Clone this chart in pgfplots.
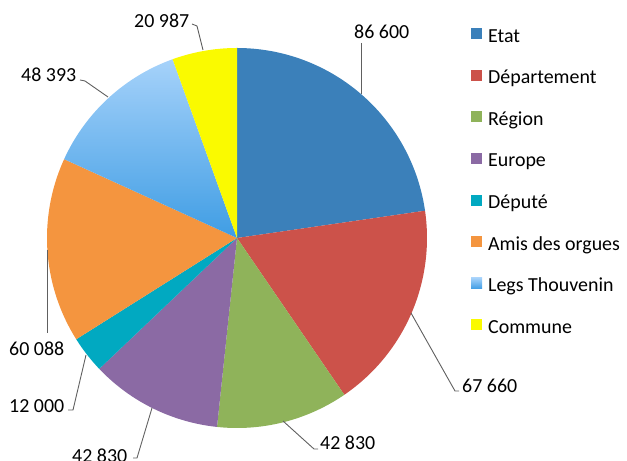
\documentclass[border=0pt]{standalone}
\usepackage{pgfplots}
\pgfplotsset{compat=1.18}
\usepackage{fontspec}
\setmainfont{Carlito}

\definecolor{cEtat}{HTML}{3B80BA}
\definecolor{cDep}{HTML}{CC524A}
\definecolor{cReg}{HTML}{8FB35A}
\definecolor{cEur}{HTML}{8B6AA4}
\definecolor{cDeput}{HTML}{01A9C1}
\definecolor{cAmis}{HTML}{F4953F}
\definecolor{cLegsT}{HTML}{A6D2FA}
\definecolor{cLegsB}{HTML}{3F9DE4}
\definecolor{cLegs}{HTML}{6AB2EE}
\definecolor{cCom}{HTML}{FAFA00}
\definecolor{cLead}{HTML}{606060}

% data (euros)
\def\vEtat{86600}
\def\vDep{67660}
\def\vReg{42830}
\def\vEur{42830}
\def\vDeput{12000}
\def\vAmis{60088}
\def\vLegs{48393}
\def\vCom{20987}
\edef\tot{\fpeval{\vEtat+\vDep+\vReg+\vEur+\vDeput+\vAmis+\vLegs+\vCom}}
% slice boundary angles, clockwise from the top
\edef\Aa{90}
\edef\Ab{\fpeval{\Aa-360*\vEtat/\tot}}
\edef\Ac{\fpeval{\Ab-360*\vDep/\tot}}
\edef\Ad{\fpeval{\Ac-360*\vReg/\tot}}
\edef\Ae{\fpeval{\Ad-360*\vEur/\tot}}
\edef\Af{\fpeval{\Ae-360*\vDeput/\tot}}
\edef\Ag{\fpeval{\Af-360*\vAmis/\tot}}
\edef\Ah{\fpeval{\Ag-360*\vLegs/\tot}}
\edef\Ai{\fpeval{\Ah-360*\vCom/\tot}}

\def\cx{237}
\def\cy{223}
\def\R{190}

\begin{document}
\begin{tikzpicture}
\begin{axis}[
  x=1bp, y=1bp,
  xmin=0, xmax=627, ymin=0, ymax=461,
  hide axis, clip=false,
  legend cell align=left,
  legend style={at={(471/627,433/461)}, anchor=north west, draw=none, fill=none,
    inner sep=0pt, row sep=23.6bp, column sep=6bp,
    font=\fontsize{20}{24}\selectfont,
    nodes={inner sep=0pt, text height=14bp, text depth=4bp, anchor=base west}},
  every axis plot/.append style={draw=none, samples=90, variable=\t,
    legend image code/.code={\fill[##1, draw=none] (0bp,3bp) rectangle (11bp,14bp);}},
]
\addplot[fill=cEtat, domain=\Ab:\Aa] ({\cx+\R*cos(\t)},{\cy+\R*sin(\t)}) -- (axis cs:\cx,\cy) -- cycle;
\addlegendentry{Etat}
\addplot[fill=cDep, domain=\Ac:\Ab] ({\cx+\R*cos(\t)},{\cy+\R*sin(\t)}) -- (axis cs:\cx,\cy) -- cycle;
\addlegendentry{Département}
\addplot[fill=cReg, domain=\Ad:\Ac] ({\cx+\R*cos(\t)},{\cy+\R*sin(\t)}) -- (axis cs:\cx,\cy) -- cycle;
\addlegendentry{Région}
\addplot[fill=cEur, domain=\Ae:\Ad] ({\cx+\R*cos(\t)},{\cy+\R*sin(\t)}) -- (axis cs:\cx,\cy) -- cycle;
\addlegendentry{Europe}
\addplot[fill=cDeput, domain=\Af:\Ae] ({\cx+\R*cos(\t)},{\cy+\R*sin(\t)}) -- (axis cs:\cx,\cy) -- cycle;
\addlegendentry{Député}
\addplot[fill=cAmis, domain=\Ag:\Af] ({\cx+\R*cos(\t)},{\cy+\R*sin(\t)}) -- (axis cs:\cx,\cy) -- cycle;
\addlegendentry{Amis des orgues}
\addplot[top color=cLegsT, bottom color=cLegsB, domain=\Ah:\Ag] ({\cx+\R*cos(\t)},{\cy+\R*sin(\t)}) -- (axis cs:\cx,\cy) -- cycle;
\addlegendentry{Legs Thouvenin}
\addplot[fill=cCom, domain=\Ai:\Ah] ({\cx+\R*cos(\t)},{\cy+\R*sin(\t)}) -- (axis cs:\cx,\cy) -- cycle;
\addlegendentry{Commune}

% leader lines
\draw[cLead, line width=0.9bp] (axis cs:361,418) -- (axis cs:361,367);
\draw[cLead, line width=0.9bp] (axis cs:411,148) -- (axis cs:455,70) -- (axis cs:459,70);
\draw[cLead, line width=0.9bp] (axis cs:283,40) -- (axis cs:314,12) -- (axis cs:318,12);
\draw[cLead, line width=0.9bp] (axis cs:152,53) -- (axis cs:137,3) -- (axis cs:133,3);
\draw[cLead, line width=0.9bp] (axis cs:86,106) -- (axis cs:73,51) -- (axis cs:68,51);
\draw[cLead, line width=0.9bp] (axis cs:47,211) -- (axis cs:47,128);
\draw[cLead, line width=0.9bp] (axis cs:80,381) -- (axis cs:85,380) -- (axis cs:108,364);
\draw[cLead, line width=0.9bp] (axis cs:192,437) -- (axis cs:197,435) -- (axis cs:203,411);

% data labels
\begin{scope}[every node/.style={anchor=base west, inner sep=0pt, font=\fontsize{20}{24}\selectfont}]
\node at (axis cs:354,422) {86 600};
\node at (axis cs:462,68) {67 660};
\node at (axis cs:320,11) {42 830};
\node at (axis cs:72,-2) {42 830};
\node at (axis cs:9,48) {12 000};
\node at (axis cs:9,105) {60 088};
\node at (axis cs:21,379) {48 393};
\node at (axis cs:134,433) {20 987};
\end{scope}
\coordinate (BL) at (axis cs:0,0);
\coordinate (TR) at (axis cs:627,461);
\end{axis}
\pgfresetboundingbox
\useasboundingbox (BL) rectangle (TR);
\end{tikzpicture}
\end{document}
